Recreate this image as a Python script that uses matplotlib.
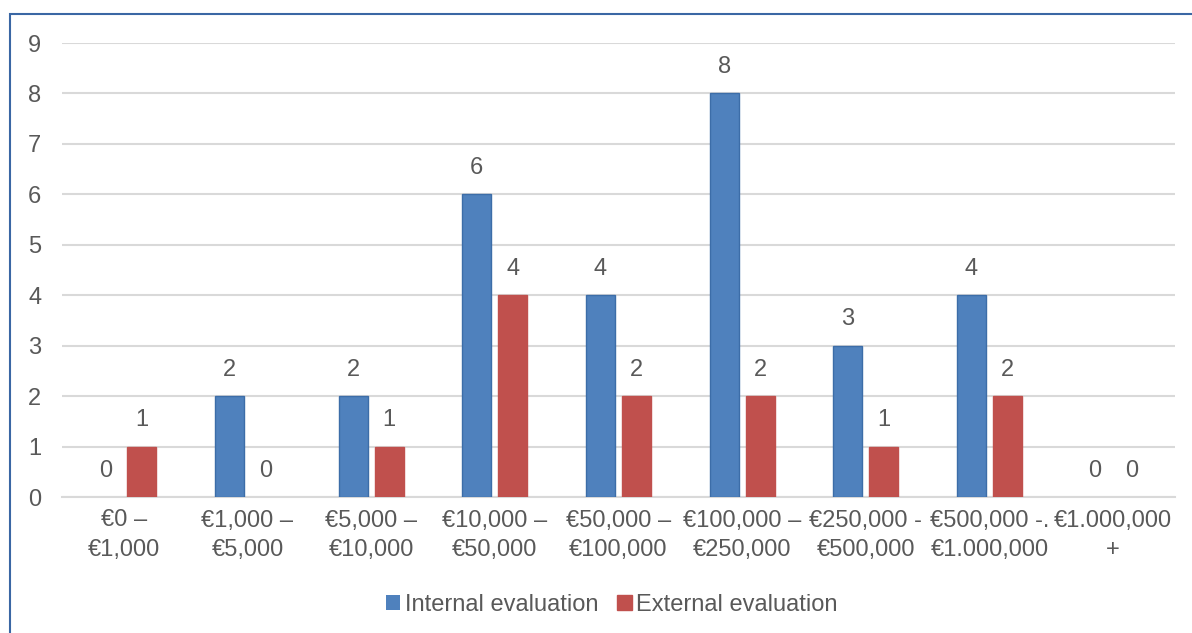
import numpy as np
import matplotlib.pyplot as plt
from matplotlib.patches import Rectangle

plt.rcParams['font.family'] = ['Liberation Sans', 'DejaVu Sans']

# data
categories = ['€0 –\n€1,000', '€1,000 –\n€5,000', '€5,000 –\n€10,000', '€10,000 –\n€50,000',
              '€50,000 –\n€100,000', '€100,000 –\n€250,000', '€250,000 -\n€500,000',
              '€500,000 -.\n€1.000,000', '€1.000,000\n+']
internal = [0, 2, 2, 6, 4, 8, 3, 4, 0]
external = [1, 0, 1, 4, 2, 2, 1, 2, 0]
yticks = list(range(0, 10))

TEXT = '#595959'
GRID = '#D9D9D9'
BLUE = '#4F81BD'
RED = '#C0504D'
FS = 17

fig = plt.figure(figsize=(11.92, 6.33), dpi=100)
fig.patches.append(Rectangle((10 / 1192, -0.1), 1.2, 1.1 - 14 / 633, transform=fig.transFigure,
                             fill=False, edgecolor='#3A67A4', linewidth=1.5, zorder=0))

ax = fig.add_axes([62 / 1192, 1 - 497 / 633, (1175 - 62) / 1192, (497 - 43) / 633])

x = np.arange(len(categories))
w = 0.235
gap = 0.057
b1 = ax.bar(x - (w + gap) / 2, internal, w, color=BLUE, edgecolor='#3C6DA8',
            linewidth=[1 if v else 0 for v in internal], label='Internal evaluation', zorder=3)
b2 = ax.bar(x + (w + gap) / 2, external, w, color=RED, edgecolor=RED,
            linewidth=[1 if v else 0 for v in external], label='External evaluation', zorder=3)

for bars, vals in ((b1, internal), (b2, external)):
    for rect, v in zip(bars, vals):
        ax.annotate(str(v), (rect.get_x() + rect.get_width() / 2, v),
                    xytext=(0, 19), textcoords='offset points', ha='center', va='center',
                    fontsize=FS, color=TEXT)

ax.set_xlim(-0.5, len(categories) - 0.5)
ax.set_ylim(0, 9)
ax.set_yticks(yticks)
ax.set_xticks(x)
ax.set_xticklabels(categories, fontsize=FS, color=TEXT, linespacing=1.45)
ax.tick_params(axis='y', length=0, pad=15, labelsize=FS, labelcolor=TEXT)
ax.tick_params(axis='x', length=0, pad=9)
ax.grid(axis='y', color=GRID, linewidth=1.5, zorder=0)
ax.set_axisbelow(True)
for s in ['top', 'right', 'left']:
    ax.spines[s].set_visible(False)
ax.spines['bottom'].set_color(GRID)
ax.spines['bottom'].set_linewidth(1.5)

fig.legend(handles=[b1, b2], loc='center', bbox_to_anchor=(612 / 1192, 1 - 605 / 633),
           ncol=2, frameon=False, fontsize=FS, labelcolor=TEXT, handlelength=0.6,
           handleheight=0.6, handletextpad=0.2, columnspacing=0.8)

fig.savefig('out.png', dpi=100)
